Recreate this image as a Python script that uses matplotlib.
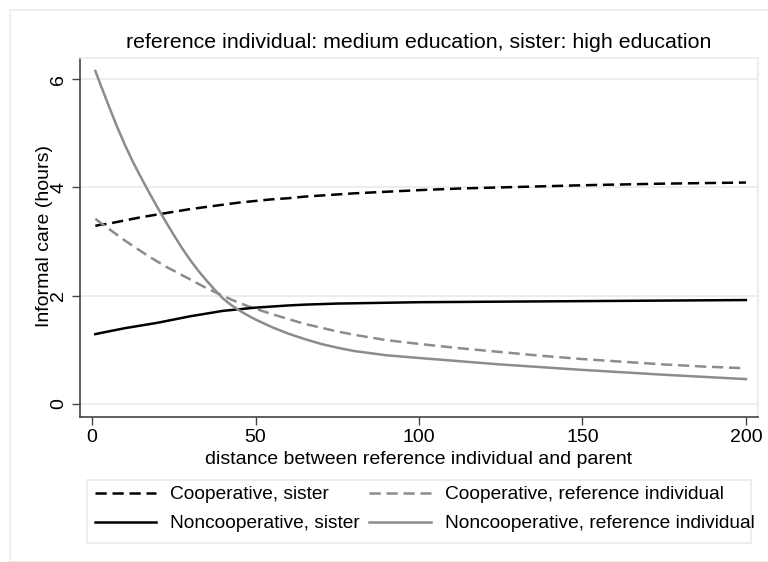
import matplotlib
matplotlib.use("Agg")
import matplotlib.pyplot as plt
from matplotlib.patches import Rectangle

plt.rcParams['font.family'] = ['Liberation Sans', 'DejaVu Sans']

distance = [1, 2.5, 5, 7.5, 10, 12.5, 15, 17.5, 20, 22.5, 25, 27.5, 30, 32.5, 35, 37.5, 40, 42.5,
            45, 47.5, 50, 55, 60, 65, 70, 75, 80, 90, 100, 112.5, 125, 137.5, 150, 162.5, 175, 187.5, 200]
coop_sister = [3.29, 3.31, 3.33, 3.36, 3.39, 3.42, 3.45, 3.475, 3.50, 3.525, 3.55, 3.575, 3.60, 3.62,
               3.64, 3.66, 3.68, 3.70, 3.72, 3.735, 3.75, 3.78, 3.80, 3.83, 3.85, 3.87, 3.89, 3.92,
               3.95, 3.98, 4.00, 4.02, 4.04, 4.055, 4.07, 4.08, 4.09]
coop_ref = [3.42, 3.35, 3.24, 3.13, 3.02, 2.92, 2.82, 2.72, 2.63, 2.54, 2.46, 2.38, 2.30, 2.22, 2.14,
            2.07, 2.00, 1.93, 1.87, 1.81, 1.76, 1.66, 1.57, 1.48, 1.41, 1.34, 1.28, 1.18, 1.11, 1.03,
            0.96, 0.89, 0.83, 0.78, 0.73, 0.69, 0.66]
noncoop_sister = [1.29, 1.31, 1.34, 1.37, 1.40, 1.425, 1.45, 1.475, 1.50, 1.53, 1.56, 1.59, 1.62,
                  1.645, 1.67, 1.695, 1.72, 1.735, 1.75, 1.765, 1.78, 1.80, 1.82, 1.835, 1.845,
                  1.855, 1.86, 1.87, 1.88, 1.885, 1.89, 1.895, 1.90, 1.905, 1.91, 1.915, 1.92]
noncoop_ref = [6.15, 5.91, 5.52, 5.14, 4.79, 4.47, 4.18, 3.90, 3.63, 3.37, 3.12, 2.88, 2.66, 2.46,
               2.28, 2.11, 1.95, 1.83, 1.73, 1.64, 1.56, 1.42, 1.30, 1.20, 1.11, 1.04, 0.98, 0.90,
               0.85, 0.79, 0.73, 0.68, 0.63, 0.585, 0.54, 0.50, 0.46]

series_labels = ["Cooperative, sister", "Cooperative, reference individual",
                 "Noncooperative, sister", "Noncooperative, reference individual"]
x_ticks = [0, 50, 100, 150, 200]
y_ticks = [0, 2, 4, 6]

W, H = 768, 562
fig = plt.figure(figsize=(W / 100, H / 100), dpi=100)
faint = '#e4eced'
fig.patches.append(Rectangle((10 / W, 0), 1, 1 - 10 / H, transform=fig.transFigure,
                             fill=False, edgecolor=faint, linewidth=1.2))

ax = fig.add_axes([80 / W, 1 - 417 / H, (758 - 80) / W, (417 - 58) / H])
black = '#000000'
grey = '#8c8c8c'
fs = 14
dash = (0, (4.5, 2.3))

l1, = ax.plot(distance, coop_sister, color=black, lw=1.8, linestyle=dash)
l2, = ax.plot(distance, coop_ref, color=grey, lw=1.8, linestyle=dash)
l3, = ax.plot(distance, noncoop_sister, color=black, lw=1.8)
l4, = ax.plot(distance, noncoop_ref, color=grey, lw=1.8)

ax.set_xlim(-3.7, 203.7)
ax.set_ylim(-0.24, 6.39)
ax.set_xticks(x_ticks)
ax.set_yticks(y_ticks)
ax.set_xticklabels([str(v) for v in x_ticks], fontsize=fs)
ax.set_yticklabels([str(v) for v in y_ticks], fontsize=fs, rotation=90, va='center')
ax.tick_params(axis='both', length=6, width=1, color='#444444', pad=3)
ax.grid(True, axis='y', color=faint, lw=1.2)
ax.set_axisbelow(True)
for s in ['left', 'bottom']:
    ax.spines[s].set_color('#444444')
    ax.spines[s].set_linewidth(1.2)
for s in ['top', 'right']:
    ax.spines[s].set_color(faint)
    ax.spines[s].set_linewidth(1.2)

ax.set_title("reference individual: medium education, sister: high education",
             fontsize=15.4, pad=7)
ax.set_xlabel("distance between reference individual and parent", fontsize=fs, labelpad=3)
ax.set_ylabel("Informal care (hours)", fontsize=fs)
ax.yaxis.set_label_coords((53 - 80) / (758 - 80), (417 - 236) / (417 - 58))

fig.patches.append(Rectangle((87 / W, 1 - 543 / H), (751 - 87) / W, (543 - 480) / H,
                             transform=fig.transFigure, fill=False, edgecolor=faint, linewidth=1.2))
leg = fig.legend([l1, l3, l2, l4],
                 [series_labels[0], series_labels[2], series_labels[1], series_labels[3]],
                 ncol=2, loc='upper left', bbox_to_anchor=(95 / W, 1 - 486 / H),
                 fontsize=13.8, frameon=False,
                 handlelength=3.2, handletextpad=0.72, columnspacing=0.5,
                 labelspacing=0.6, borderpad=0, borderaxespad=0)

fig.savefig("out.png", dpi=100)
